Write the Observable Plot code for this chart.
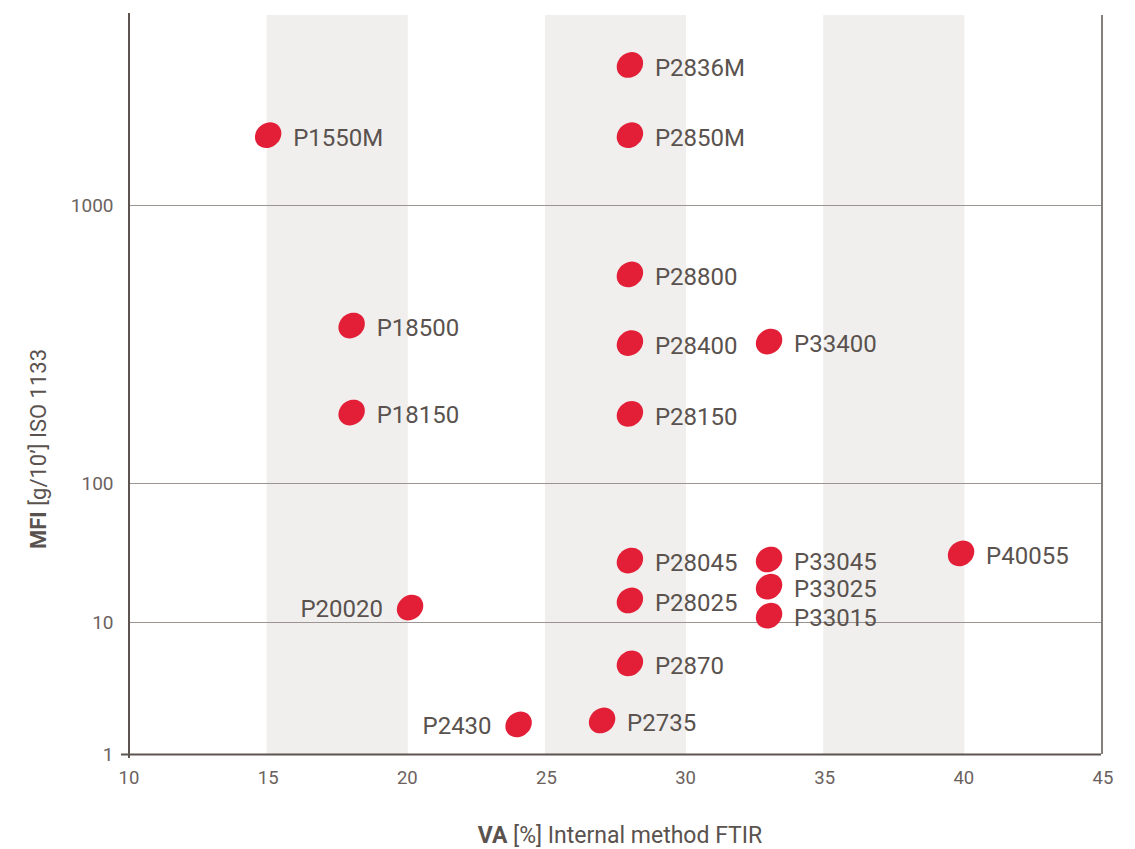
<!DOCTYPE html>
<html>
<head>
<meta charset="utf-8">
<script src="https://cdn.jsdelivr.net/npm/d3@7"></script>
<script src="https://cdn.jsdelivr.net/npm/@observablehq/plot@0.6"></script>
<style>
  html, body { margin: 0; padding: 0; background: #ffffff; }
  #chart { width: 1135px; height: 849px; }
</style>
</head>
<body>
<div id="chart"></div>
<script>
// ---- data ----
const names = ["P2836M","P1550M","P2850M","P28800","P18500","P28400","P33400","P18150","P28150",
               "P28045","P33045","P40055","P33025","P20020","P28025","P33015","P2870","P2735","P2430"];
const va    = [28, 15, 28, 28, 18, 28, 33, 18, 28, 28, 33, 39.9, 33, 20.1, 28, 33, 28, 27, 24];
const mfi   = [3200, 1790, 1790, 565, 370, 320, 324, 180, 178, 27.9, 28.4, 31.4, 18.1, 12.8, 14.4, 11.2, 4.9, 1.81, 1.69];
const labelSide = ["right","right","right","right","right","right","right","right","right",
                   "right","right","right","right","left","right","right","right","right","left"];
const bandStart = [15, 25, 35];
const bandEnd   = [20, 30, 40];
const xTicks = [10, 15, 20, 25, 30, 35, 40, 45];
const yTicks = [1, 10, 100, 1000];
const gridY  = [10, 100, 1000];

const points = names.map((n, i) => ({name: n, va: va[i], mfi: mfi[i], side: labelSide[i]}));
const bands = bandStart.map((s, i) => ({x1: s, x2: bandEnd[i]}));

// tilted ellipse symbol
const ellipse = {
  draw(context, size) {
    const a = 14, b = 12, th = -40 * Math.PI / 180;
    const n = 40;
    for (let k = 0; k <= n; k++) {
      const t = (k / n) * 2 * Math.PI;
      const ex = a * Math.cos(t), ey = b * Math.sin(t);
      const px = ex * Math.cos(th) - ey * Math.sin(th);
      const py = ex * Math.sin(th) + ey * Math.cos(th);
      if (k === 0) context.moveTo(px, py); else context.lineTo(px, py);
    }
    context.closePath();
  }
};

const axisColor = "#5d5450";
const textColor = "#5a524e";
const font = "Roboto, 'Open Sans', sans-serif";

const plot = Plot.plot({
  width: 1135,
  height: 849,
  marginLeft: 128,
  marginRight: 34,
  marginTop: 15,
  marginBottom: 95,
  style: {fontFamily: font, background: "#ffffff", color: textColor},
  x: {domain: [10, 45], range: [128.5, 1102.5]},
  y: {type: "log", domain: [1, 10, 100, 1000, 4860], range: [754, 622, 483, 205, 14]},
  marks: [
    Plot.rectX(bands, {x1: "x1", x2: "x2", fill: "#f0efed", insetLeft: -1, insetRight: -1}),
    Plot.ruleY(gridY, {stroke: "#9c9490", strokeWidth: 1}),
    Plot.ruleX([45], {stroke: axisColor, strokeWidth: 1.5, dx: -1}),
    Plot.ruleX([10], {stroke: axisColor, strokeWidth: 2, insetTop: -2, insetBottom: -4}),
    Plot.ruleY([1], {stroke: axisColor, strokeWidth: 2, insetLeft: -7}),
    Plot.axisX({ticks: xTicks, tickSize: 0, tickPadding: 16, fontSize: 18.5, fill: "#6b625e", label: null}),
    Plot.axisY({ticks: yTicks, tickFormat: d => String(d), tickSize: 0, tickPadding: 15, fontSize: 19, fill: "#6b625e", label: null}),
    Plot.dot(points, {x: "va", y: "mfi", symbol: ellipse, r: 12, fill: "#e31f38", stroke: "none"}),
    Plot.text(points.filter(d => d.side === "right"), {x: "va", y: "mfi", text: "name", dx: 25, dy: 3, textAnchor: "start", fontSize: 24, fill: textColor}),
    Plot.text(points.filter(d => d.side === "left"), {x: "va", y: "mfi", text: "name", dx: -27, dy: 2, textAnchor: "end", fontSize: 24, fill: textColor})
  ]
});

document.getElementById("chart").appendChild(plot);

// axis titles with mixed weight
const svg = d3.select(plot);
const xt = svg.append("text")
  .attr("x", 620).attr("y", 843)
  .attr("text-anchor", "middle")
  .attr("font-size", 23).attr("fill", textColor)
  .attr("font-family", font);
xt.append("tspan").attr("font-weight", "bold").text("VA");
xt.append("tspan").text(" [%] Internal method FTIR");

const yt = svg.append("text")
  .attr("transform", "translate(46,449) rotate(-90)")
  .attr("text-anchor", "middle")
  .attr("font-size", 22).attr("fill", textColor)
  .attr("font-family", font);
yt.append("tspan").attr("font-weight", "bold").text("MFI");
yt.append("tspan").text(" [g/10’] ISO 1133");
</script>
</body>
</html>
